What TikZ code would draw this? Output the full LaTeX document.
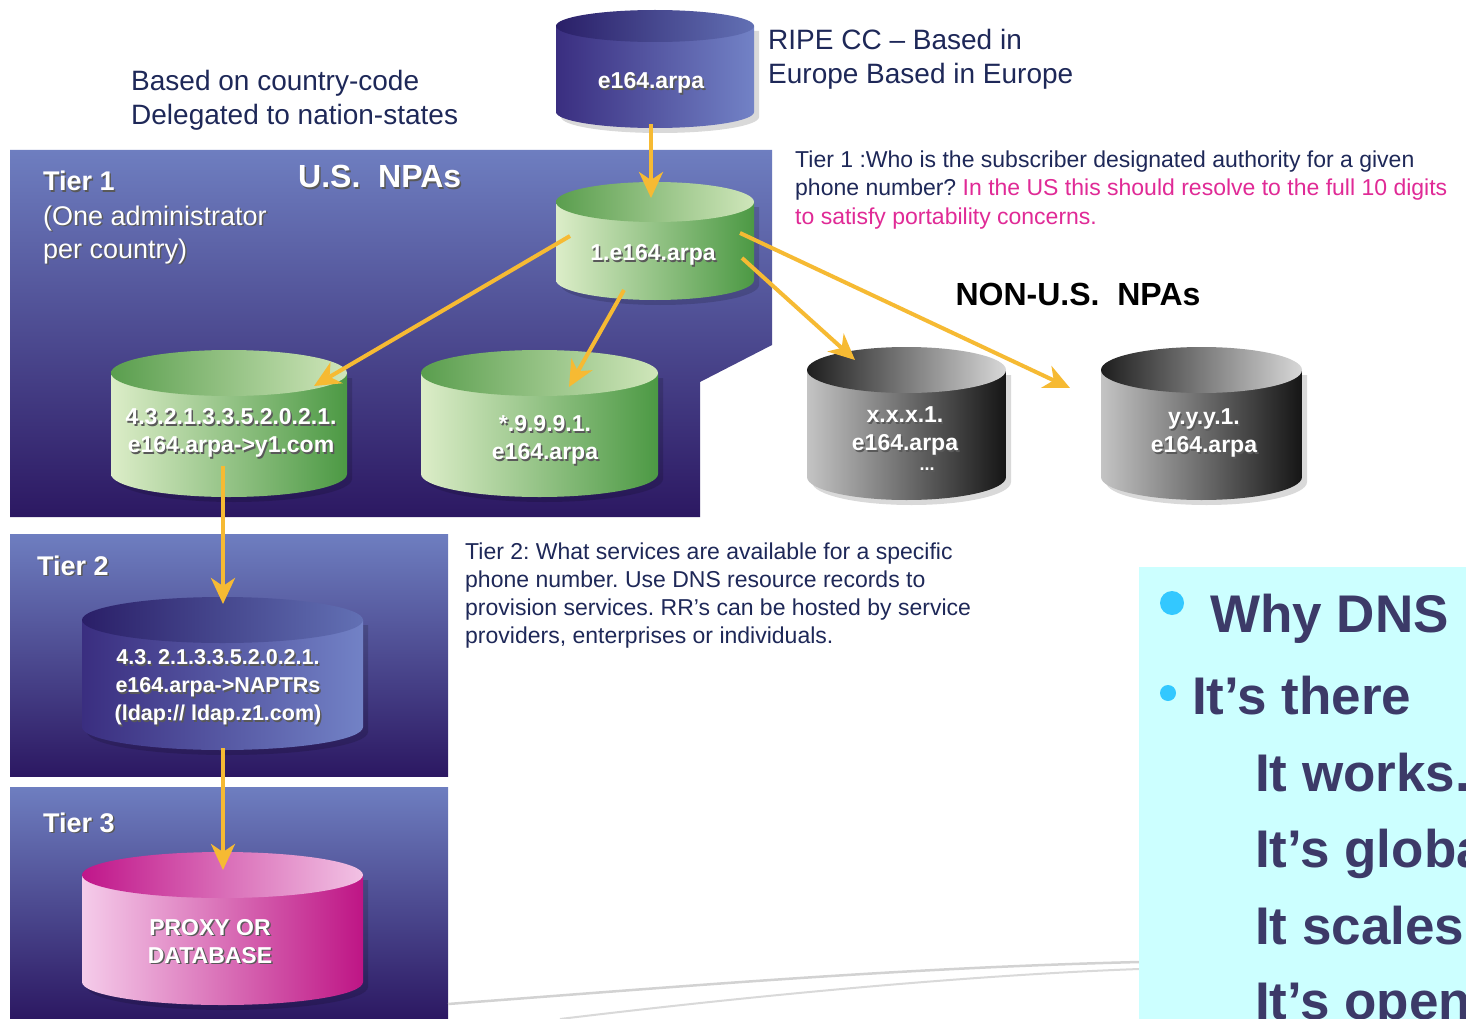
\documentclass[tikz,border=0pt]{standalone}
\usepackage{fontspec}
\setmainfont{Liberation Sans}
\usetikzlibrary{arrows.meta,calc}
\frenchspacing
\definecolor{navy}{HTML}{1E2858}
\definecolor{mag}{HTML}{E02A96}
\definecolor{arrowc}{HTML}{F6BA33}
\definecolor{dnsc}{HTML}{3C3A68}
\definecolor{bull}{HTML}{33C8FF}
\definecolor{cyanbg}{HTML}{CCFFFF}
\definecolor{paneltop}{HTML}{6E7EC0}
\definecolor{panelbot}{HTML}{2C1862}
\definecolor{cBlueL}{HTML}{3A2E80}
\definecolor{cBlueR}{HTML}{7282C6}
\definecolor{cBlueTL}{HTML}{2A1F68}
\definecolor{cBlueTR}{HTML}{6270B4}
\definecolor{cGreenL}{HTML}{DCEDC8}
\definecolor{cGreenM}{HTML}{B4D79A}
\definecolor{cGreenR}{HTML}{4C9944}
\definecolor{cGreenTL}{HTML}{5A9E4E}
\definecolor{cGreenTR}{HTML}{CFE6BA}
\definecolor{cGrayL}{HTML}{C4C4C4}
\definecolor{cGrayM}{HTML}{8C8C8C}
\definecolor{cGrayR}{HTML}{151515}
\definecolor{cGrayTL}{HTML}{1E1E1E}
\definecolor{cGrayTR}{HTML}{D8D8D8}
\definecolor{cPinkL}{HTML}{F5CCEA}
\definecolor{cPinkM}{HTML}{E27DC0}
\definecolor{cPinkR}{HTML}{BE1585}
\definecolor{cPinkTL}{HTML}{C0168A}
\definecolor{cPinkTR}{HTML}{F2C2E4}
\newcommand\shtxt[1]{\makebox[0pt][l]{\kern1.5pt\raisebox{-1.5pt}{\color{black!65}#1}}#1}
\newcommand\cyl[7]{%
  \pgfmathsetmacro\cylL{#1-#3/2}%
  \pgfmathsetmacro\cylR{#1+#3/2}%
  \pgfmathsetmacro\cylT{#2+#5}%
  \pgfmathsetmacro\cylB{#4-#5}%
  \pgfmathsetmacro\cylRX{#3/2}%
  \fill[black,opacity=.15] (\cylL+5,\cylT+5) -- (\cylL+5,\cylB+5)
     arc[start angle=180, end angle=0, x radius=\cylRX, y radius=#5] -- (\cylR+5,\cylT+5) -- cycle;
  \path[#6] (\cylL,\cylT) -- (\cylL,\cylB)
     arc[start angle=180, end angle=0, x radius=\cylRX, y radius=#5] -- (\cylR,\cylT) -- cycle;
  \path[#7] (#1,\cylT) ellipse [x radius=\cylRX, y radius=#5];
}
\tikzset{
  panel/.style={top color=paneltop, bottom color=panelbot},
  bluebody/.style={left color=cBlueL, right color=cBlueR},
  bluetop/.style={left color=cBlueTL, right color=cBlueTR},
  greenbody/.style={left color=cGreenL, middle color=cGreenM, right color=cGreenR},
  greentop/.style={left color=cGreenTL, right color=cGreenTR},
  graybody/.style={left color=cGrayL, middle color=cGrayM, right color=cGrayR},
  graytop/.style={left color=cGrayTL, right color=cGrayTR},
  pinkbody/.style={left color=cPinkL, middle color=cPinkM, right color=cPinkR},
  pinktop/.style={left color=cPinkTL, right color=cPinkTR},
  txt/.style={anchor=base west, inner sep=0pt},
  desc/.style={txt, text=navy, font=\fontsize{23pt}{28pt}\selectfont},
  big/.style={txt, text=navy, font=\fontsize{28pt}{34pt}\selectfont},
  wlab/.style={txt, text=white, font=\fontsize{27pt}{32pt}\selectfont},
  cyltxt/.style={inner sep=0pt, align=center, text=white, font=\fontsize{23pt}{28pt}\selectfont\bfseries},
  dns/.style={txt, text=dnsc, font=\fontsize{53pt}{60pt}\selectfont\bfseries},
  arr/.style={draw=arrowc, line width=4pt, -{Stealth[length=26pt,width=24pt,inset=8pt]}},
}
\begin{document}
\begin{tikzpicture}[x=1pt,y=-1pt]
\useasboundingbox (0,0) rectangle (1466,1019);
\fill[white] (0,0) rectangle (1466,1019);

% panels
\path[panel] (10,150) -- (772,150) -- (772,345) -- (700,382) -- (700,517) -- (10,517) -- cycle;
\path[panel] (10,534) rectangle (448,776);
\path[panel] (10,787) rectangle (448,1019);

% faint lines at bottom
\draw[gray!35, line width=2.5pt] (448,1004) .. controls (700,985) and (900,968) .. (1139,962);
\draw[gray!30, line width=2pt] (560,1019) .. controls (800,990) and (1000,974) .. (1139,969);

% cylinders
\cyl{655}{10}{198}{128}{16}{bluebody}{bluetop}
\cyl{655}{182}{198}{300}{20}{greenbody}{greentop}
\cyl{229}{350}{236}{497}{23}{greenbody}{greentop}
\cyl{539.5}{350}{237}{497}{23}{greenbody}{greentop}
\cyl{906.5}{347}{199}{500}{23}{graybody}{graytop}
\cyl{1201.5}{347}{201}{500}{23}{graybody}{graytop}
\cyl{222.5}{597}{281}{750}{23}{bluebody}{bluetop}
\cyl{222.5}{852}{281}{1005}{23}{pinkbody}{pinktop}

% cylinder labels
\node[cyltxt] (root) at (651,84) {\shtxt{e164.arpa}};
\node[cyltxt] (one) at (653,256) {\shtxt{1.e164.arpa}};
\node[cyltxt] (usa) at (231,434) {\shtxt{4.3.2.1.3.3.5.2.0.2.1.}\\\shtxt{e164.arpa->y1.com}};
\node[cyltxt] (usb) at (545,441) {\shtxt{*.9.9.9.1.}\\\shtxt{e164.arpa}};
\node[cyltxt] (nona) at (905,432) {\shtxt{x.x.x.1.}\\\shtxt{e164.arpa}};
\node[cyltxt, font=\fontsize{18pt}{20pt}\selectfont\bfseries] (nonadots) at (927,470) {\shtxt{...}};
\node[cyltxt] (nonb) at (1204,434) {\shtxt{y.y.y.1.}\\\shtxt{e164.arpa}};
\node[cyltxt, font=\fontsize{21.5pt}{28pt}\selectfont\bfseries] (tiertwo) at (218,688) {\shtxt{4.3. 2.1.3.3.5.2.0.2.1.}\\\shtxt{e164.arpa->NAPTRs}\\\shtxt{(ldap:// ldap.z1.com)}};
\node[cyltxt] (proxy) at (210,942) {\shtxt{PROXY OR}\\\shtxt{DATABASE}};

% top texts
\node[big] (ripe1) at (768,50) {RIPE CC – Based in};
\node[big] (ripe2) at (768,84) {Europe Based in Europe};
\node[big] (cc1) at (131,91) {Based on country-code};
\node[big] (cc2) at (131,125) {Delegated to nation-states};

% panel labels
\node[wlab, font=\fontsize{27pt}{32pt}\selectfont\bfseries] (t1) at (43,191) {\shtxt{Tier 1}};
\node[wlab] (t1a) at (43,225) {\shtxt{(One administrator}};
\node[wlab] (t1b) at (43,258) {\shtxt{per country)}};
\node[wlab, font=\fontsize{32pt}{36pt}\selectfont\bfseries] (usn) at (298,188) {\shtxt{U.S.~~NPAs}};
\node[wlab, font=\fontsize{27pt}{32pt}\selectfont\bfseries] (t2) at (37,575) {\shtxt{Tier 2}};
\node[wlab, font=\fontsize{27pt}{32pt}\selectfont\bfseries] (t3) at (43,832) {\shtxt{Tier 3}};

% tier 1 description
\node[desc] (d1a) at (795,168) {Tier 1 :Who is the subscriber designated authority for a given};
\node[desc] (d1b) at (795,196) {phone number? {\color{mag}In the US this should resolve to the full 10 digits}};
\node[desc, text=mag] (d1c) at (795,224) {to satisfy portability concerns.};

\node[anchor=base, inner sep=0pt, font=\fontsize{32pt}{36pt}\selectfont\bfseries] (nonus) at (1078,305) {NON-U.S.~~NPAs};

% tier 2 description
\node[desc] (d2a) at (465,559) {Tier 2: What services are available for a specific};
\node[desc] (d2b) at (465,587) {phone number. Use DNS resource records to};
\node[desc] (d2c) at (465,615) {provision services. RR’s can be hosted by service};
\node[desc] (d2d) at (465,643) {providers, enterprises or individuals.};

% arrows
\coordinate (rootOut) at (651,124);
\coordinate (oneIn) at (651,198);
\coordinate (oneOutA) at (570,236);
\coordinate (usaIn) at (314,386);
\coordinate (oneOutB) at (624,290);
\coordinate (usbIn) at (569,387);
\coordinate (oneOutC) at (742,258);
\coordinate (nonaIn) at (855,360);
\coordinate (oneOutD) at (740,233);
\coordinate (nonbIn) at (1070,388);
\coordinate (usaOut) at (223,466);
\coordinate (tiertwoIn) at (223,604);
\coordinate (tiertwoOut) at (223,748);
\coordinate (proxyIn) at (223,870);
\draw[arr] (rootOut) -- (oneIn);
\draw[arr] (oneOutA) -- (usaIn);
\draw[arr] (oneOutB) -- (usbIn);
\draw[arr] (oneOutC) -- (nonaIn);
\draw[arr] (oneOutD) -- (nonbIn);
\draw[arr] (usaOut) -- (tiertwoIn);
\draw[arr] (tiertwoOut) -- (proxyIn);

% right box
\begin{scope}
\clip (1139,567) rectangle (1466,1019);
\fill[cyanbg] (1139,567) rectangle (1466,1019);
\fill[bull] (1172,603) circle (12);
\fill[bull] (1168,693) circle (8);
\node[dns] (why) at (1210,632) {Why DNS};
\node[dns] (there) at (1192,714) {It’s there};
\node[dns] (works) at (1255,791) {It works.};
\node[dns] (global) at (1255,867) {It’s global};
\node[dns] (scales) at (1255,944) {It scales};
\node[dns] (open) at (1255,1019) {It’s open};
\end{scope}
\end{tikzpicture}
\end{document}
